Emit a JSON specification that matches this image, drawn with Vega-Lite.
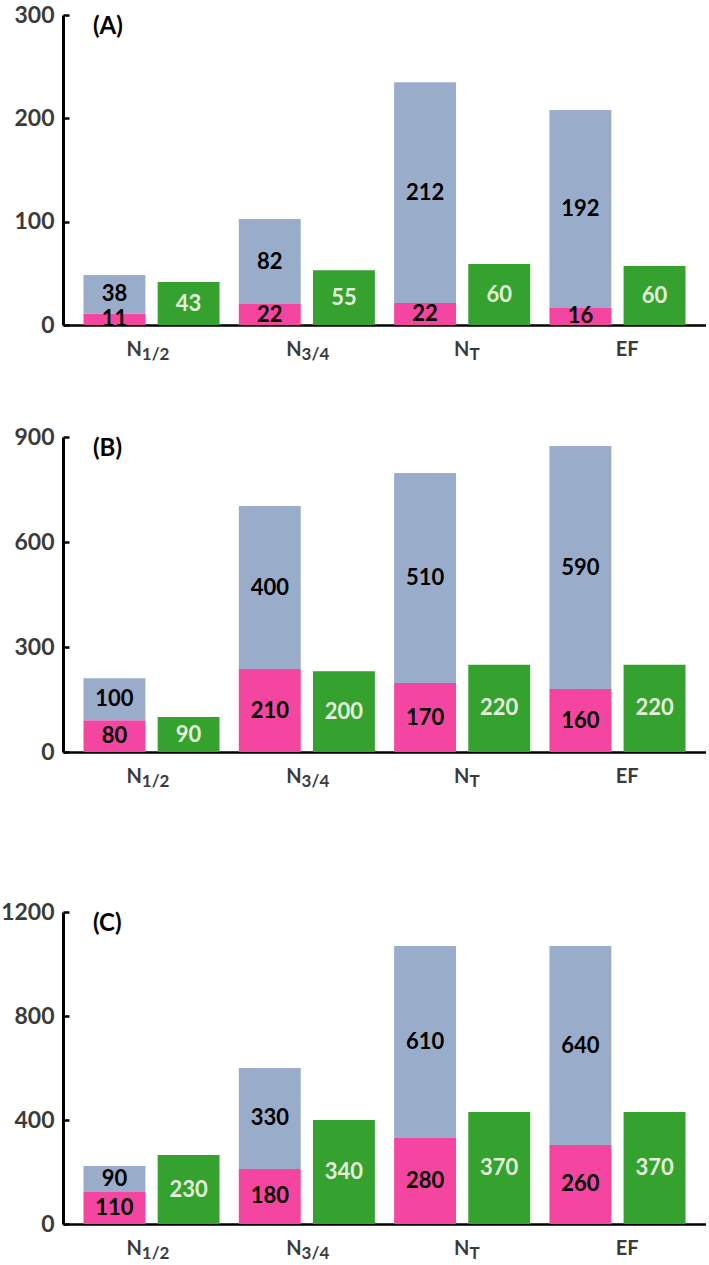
{
  "$schema": "https://vega.github.io/schema/vega-lite/v6.json",
  "padding": {"top": 4, "left": 0, "right": 0, "bottom": 0},
  "config": {
    "view": {"stroke": null},
    "font": "Lato",
    "axis": {"grid": false, "title": null}
  },
  "datasets": {
    "bars": [
      {"panel": "A", "group": "N1/2", "bar": "S", "seg": "lower", "value": 11, "label": "11"},
      {"panel": "A", "group": "N1/2", "bar": "S", "seg": "upper", "value": 37.4, "label": "38"},
      {"panel": "A", "group": "N1/2", "bar": "G", "seg": "other", "value": 41.6, "label": "43"},
      {"panel": "A", "group": "N3/4", "bar": "S", "seg": "lower", "value": 20.3, "label": "22"},
      {"panel": "A", "group": "N3/4", "bar": "S", "seg": "upper", "value": 82.3, "label": "82"},
      {"panel": "A", "group": "N3/4", "bar": "G", "seg": "other", "value": 53, "label": "55"},
      {"panel": "A", "group": "NT", "bar": "S", "seg": "lower", "value": 21.3, "label": "22"},
      {"panel": "A", "group": "NT", "bar": "S", "seg": "upper", "value": 213.7, "label": "212"},
      {"panel": "A", "group": "NT", "bar": "G", "seg": "other", "value": 59, "label": "60"},
      {"panel": "A", "group": "EF", "bar": "S", "seg": "lower", "value": 16.5, "label": "16"},
      {"panel": "A", "group": "EF", "bar": "S", "seg": "upper", "value": 191.5, "label": "192"},
      {"panel": "A", "group": "EF", "bar": "G", "seg": "other", "value": 57, "label": "60"},
      {"panel": "B", "group": "N1/2", "bar": "S", "seg": "lower", "value": 91, "label": "80"},
      {"panel": "B", "group": "N1/2", "bar": "S", "seg": "upper", "value": 120, "label": "100"},
      {"panel": "B", "group": "N1/2", "bar": "G", "seg": "other", "value": 100, "label": "90"},
      {"panel": "B", "group": "N3/4", "bar": "S", "seg": "lower", "value": 237, "label": "210"},
      {"panel": "B", "group": "N3/4", "bar": "S", "seg": "upper", "value": 466, "label": "400"},
      {"panel": "B", "group": "N3/4", "bar": "G", "seg": "other", "value": 231, "label": "200"},
      {"panel": "B", "group": "NT", "bar": "S", "seg": "lower", "value": 197, "label": "170"},
      {"panel": "B", "group": "NT", "bar": "S", "seg": "upper", "value": 600, "label": "510"},
      {"panel": "B", "group": "NT", "bar": "G", "seg": "other", "value": 249, "label": "220"},
      {"panel": "B", "group": "EF", "bar": "S", "seg": "lower", "value": 180, "label": "160"},
      {"panel": "B", "group": "EF", "bar": "S", "seg": "upper", "value": 694, "label": "590"},
      {"panel": "B", "group": "EF", "bar": "G", "seg": "other", "value": 249, "label": "220"},
      {"panel": "C", "group": "N1/2", "bar": "S", "seg": "lower", "value": 123, "label": "110"},
      {"panel": "C", "group": "N1/2", "bar": "S", "seg": "upper", "value": 100, "label": "90"},
      {"panel": "C", "group": "N1/2", "bar": "G", "seg": "other", "value": 265, "label": "230"},
      {"panel": "C", "group": "N3/4", "bar": "S", "seg": "lower", "value": 212, "label": "180"},
      {"panel": "C", "group": "N3/4", "bar": "S", "seg": "upper", "value": 388, "label": "330"},
      {"panel": "C", "group": "N3/4", "bar": "G", "seg": "other", "value": 400, "label": "340"},
      {"panel": "C", "group": "NT", "bar": "S", "seg": "lower", "value": 331, "label": "280"},
      {"panel": "C", "group": "NT", "bar": "S", "seg": "upper", "value": 738, "label": "610"},
      {"panel": "C", "group": "NT", "bar": "G", "seg": "other", "value": 431, "label": "370"},
      {"panel": "C", "group": "EF", "bar": "S", "seg": "lower", "value": 304, "label": "260"},
      {"panel": "C", "group": "EF", "bar": "S", "seg": "upper", "value": 765, "label": "640"},
      {"panel": "C", "group": "EF", "bar": "G", "seg": "other", "value": 431, "label": "370"}
    ],
    "xl": [
      {"group": "N1/2", "main": "N", "sub": "1/2"},
      {"group": "N3/4", "main": "N", "sub": "3/4"},
      {"group": "NT", "main": "N", "sub": "T"},
      {"group": "EF", "main": "EF", "sub": ""}
    ]
  },
  "spacing": 112,
  "bounds": "flush",
  "resolve": {"scale": {"y": "independent"}},
  "vconcat": [
    {
      "width": 643, "height": 310,
      "title": {"text": "(A)", "anchor": "start", "frame": "group", "offset": -54, "dx": 30, "baseline": "alphabetic", "fontSize": 24, "fontWeight": "bold", "font": "Lato", "color": "#000"},
      "resolve": {"scale": {"x": "independent"}},
      "layer": [
        {
          "data": {"name": "bars"},
          "transform": [{"filter": "datum.panel == 'A'"}],
          "layer": [
            {
              "mark": {"type": "bar"},
              "encoding": {
                "x": {"field": "group", "type": "nominal", "scale": {"domain": ["N1/2", "N3/4", "NT", "EF"], "paddingInner": 0.124, "paddingOuter": 0.132}, "axis": {"title": null, "labels": false, "ticks": false, "domainColor": "#000", "domainWidth": 2.5}},
                "xOffset": {"field": "bar", "type": "nominal", "scale": {"domain": ["S", "G"], "paddingInner": 0.165, "paddingOuter": 0}},
                "y": {"field": "value", "type": "quantitative", "stack": "zero", "scale": {"domain": [0, 300], "nice": false}, "axis": {"values": [0, 100, 200, 300], "format": "d", "title": null, "grid": false, "domainColor": "#000", "domainWidth": 3, "tickColor": "#000", "tickWidth": 2.5, "tickSize": -6, "labelPadding": 15, "labelFont": "Lato", "labelFontSize": 23, "labelFontWeight": "bold", "labelColor": "#3b3b3b"}},
                "color": {"field": "seg", "type": "nominal", "scale": {"domain": ["lower", "upper", "other"], "range": ["#F446A0", "#99ADCB", "#35A12F"]}, "legend": null},
                "order": {"field": "seg", "sort": "ascending"}
              }
            },
            {
              "mark": {"type": "text", "fontSize": 22, "fontWeight": "bold", "font": "Lato", "baseline": "middle"},
              "encoding": {
                "x": {"field": "group", "type": "nominal"},
                "xOffset": {"field": "bar", "type": "nominal"},
                "y": {"field": "value", "type": "quantitative", "stack": "zero", "bandPosition": 0.5},
                "detail": {"field": "seg"},
                "order": {"field": "seg", "sort": "ascending"},
                "text": {"field": "label"},
                "color": {"condition": {"test": "datum.seg == 'other'", "value": "#E3F0DA"}, "value": "#000"}
              }
            }
          ]
        },
        {
          "data": {"name": "xl"},
          "encoding": {
            "x": {"field": "group", "type": "nominal", "scale": {"type": "point", "domain": ["N1/2", "N3/4", "NT", "EF"], "padding": 0.512}, "axis": null},
            "y": {"datum": 0}
          },
          "layer": [
            {"transform": [{"filter": "datum.sub != '' && datum.sub != 'T'"}], "mark": {"type": "text", "fontSize": 20, "fontWeight": "bold", "font": "Lato", "align": "right", "baseline": "alphabetic", "dy": 31, "dx": -3, "color": "#3b3b3b"}, "encoding": {"text": {"field": "main"}}},
            {"transform": [{"filter": "datum.sub != '' && datum.sub != 'T'"}], "mark": {"type": "text", "fontSize": 17, "fontWeight": "bold", "font": "Lato", "align": "left", "baseline": "alphabetic", "dy": 35, "dx": -3, "color": "#3b3b3b"}, "encoding": {"text": {"field": "sub"}}},
            {"transform": [{"filter": "datum.sub == 'T'"}], "mark": {"type": "text", "fontSize": 20, "fontWeight": "bold", "font": "Lato", "align": "right", "baseline": "alphabetic", "dy": 31, "dx": 5, "color": "#3b3b3b"}, "encoding": {"text": {"field": "main"}}},
            {"transform": [{"filter": "datum.sub == 'T'"}], "mark": {"type": "text", "fontSize": 17, "fontWeight": "bold", "font": "Lato", "align": "left", "baseline": "alphabetic", "dy": 35, "dx": 5, "color": "#3b3b3b"}, "encoding": {"text": {"field": "sub"}}},
            {"transform": [{"filter": "datum.sub == ''"}], "mark": {"type": "text", "fontSize": 20, "fontWeight": "bold", "font": "Lato", "align": "center", "baseline": "alphabetic", "dy": 31, "dx": 3, "color": "#3b3b3b"}, "encoding": {"text": {"field": "main"}}}
          ]
        }
      ]
    },
    {
      "spacing": 160,
      "bounds": "flush",
      "resolve": {"scale": {"y": "independent"}},
      "vconcat": [
        {
          "width": 643, "height": 315,
          "title": {"text": "(B)", "anchor": "start", "frame": "group", "offset": -54, "dx": 30, "baseline": "alphabetic", "fontSize": 24, "fontWeight": "bold", "font": "Lato", "color": "#000"},
          "resolve": {"scale": {"x": "independent"}},
          "layer": [
            {
              "data": {"name": "bars"},
              "transform": [{"filter": "datum.panel == 'B'"}],
              "layer": [
                {
                  "mark": {"type": "bar"},
                  "encoding": {
                    "x": {"field": "group", "type": "nominal", "scale": {"domain": ["N1/2", "N3/4", "NT", "EF"], "paddingInner": 0.124, "paddingOuter": 0.132}, "axis": {"title": null, "labels": false, "ticks": false, "domainColor": "#000", "domainWidth": 2.5}},
                    "xOffset": {"field": "bar", "type": "nominal", "scale": {"domain": ["S", "G"], "paddingInner": 0.165, "paddingOuter": 0}},
                    "y": {"field": "value", "type": "quantitative", "stack": "zero", "scale": {"domain": [0, 900], "nice": false}, "axis": {"values": [0, 300, 600, 900], "format": "d", "title": null, "grid": false, "domainColor": "#000", "domainWidth": 3, "tickColor": "#000", "tickWidth": 2.5, "tickSize": -6, "labelPadding": 15, "labelFont": "Lato", "labelFontSize": 23, "labelFontWeight": "bold", "labelColor": "#3b3b3b"}},
                    "color": {"field": "seg", "type": "nominal", "scale": {"domain": ["lower", "upper", "other"], "range": ["#F446A0", "#99ADCB", "#35A12F"]}, "legend": null},
                    "order": {"field": "seg", "sort": "ascending"}
                  }
                },
                {
                  "mark": {"type": "text", "fontSize": 22, "fontWeight": "bold", "font": "Lato", "baseline": "middle"},
                  "encoding": {
                    "x": {"field": "group", "type": "nominal"},
                    "xOffset": {"field": "bar", "type": "nominal"},
                    "y": {"field": "value", "type": "quantitative", "stack": "zero", "bandPosition": 0.5},
                    "detail": {"field": "seg"},
                    "order": {"field": "seg", "sort": "ascending"},
                    "text": {"field": "label"},
                    "color": {"condition": {"test": "datum.seg == 'other'", "value": "#E3F0DA"}, "value": "#000"}
                  }
                }
              ]
            },
            {
              "data": {"name": "xl"},
              "encoding": {
                "x": {"field": "group", "type": "nominal", "scale": {"type": "point", "domain": ["N1/2", "N3/4", "NT", "EF"], "padding": 0.512}, "axis": null},
                "y": {"datum": 0}
              },
              "layer": [
                {"transform": [{"filter": "datum.sub != '' && datum.sub != 'T'"}], "mark": {"type": "text", "fontSize": 20, "fontWeight": "bold", "font": "Lato", "align": "right", "baseline": "alphabetic", "dy": 31, "dx": -3, "color": "#3b3b3b"}, "encoding": {"text": {"field": "main"}}},
                {"transform": [{"filter": "datum.sub != '' && datum.sub != 'T'"}], "mark": {"type": "text", "fontSize": 17, "fontWeight": "bold", "font": "Lato", "align": "left", "baseline": "alphabetic", "dy": 35, "dx": -3, "color": "#3b3b3b"}, "encoding": {"text": {"field": "sub"}}},
                {"transform": [{"filter": "datum.sub == 'T'"}], "mark": {"type": "text", "fontSize": 20, "fontWeight": "bold", "font": "Lato", "align": "right", "baseline": "alphabetic", "dy": 31, "dx": 5, "color": "#3b3b3b"}, "encoding": {"text": {"field": "main"}}},
                {"transform": [{"filter": "datum.sub == 'T'"}], "mark": {"type": "text", "fontSize": 17, "fontWeight": "bold", "font": "Lato", "align": "left", "baseline": "alphabetic", "dy": 35, "dx": 5, "color": "#3b3b3b"}, "encoding": {"text": {"field": "sub"}}},
                {"transform": [{"filter": "datum.sub == ''"}], "mark": {"type": "text", "fontSize": 20, "fontWeight": "bold", "font": "Lato", "align": "center", "baseline": "alphabetic", "dy": 31, "dx": 3, "color": "#3b3b3b"}, "encoding": {"text": {"field": "main"}}}
              ]
            }
          ]
        },
        {
          "width": 643, "height": 312,
          "title": {"text": "(C)", "anchor": "start", "frame": "group", "offset": -54, "dx": 30, "baseline": "alphabetic", "fontSize": 24, "fontWeight": "bold", "font": "Lato", "color": "#000"},
          "resolve": {"scale": {"x": "independent"}},
          "layer": [
            {
              "data": {"name": "bars"},
              "transform": [{"filter": "datum.panel == 'C'"}],
              "layer": [
                {
                  "mark": {"type": "bar"},
                  "encoding": {
                    "x": {"field": "group", "type": "nominal", "scale": {"domain": ["N1/2", "N3/4", "NT", "EF"], "paddingInner": 0.124, "paddingOuter": 0.132}, "axis": {"title": null, "labels": false, "ticks": false, "domainColor": "#000", "domainWidth": 2.5}},
                    "xOffset": {"field": "bar", "type": "nominal", "scale": {"domain": ["S", "G"], "paddingInner": 0.165, "paddingOuter": 0}},
                    "y": {"field": "value", "type": "quantitative", "stack": "zero", "scale": {"domain": [0, 1200], "nice": false}, "axis": {"values": [0, 400, 800, 1200], "format": "d", "title": null, "grid": false, "domainColor": "#000", "domainWidth": 3, "tickColor": "#000", "tickWidth": 2.5, "tickSize": -6, "labelPadding": 15, "labelFont": "Lato", "labelFontSize": 23, "labelFontWeight": "bold", "labelColor": "#3b3b3b"}},
                    "color": {"field": "seg", "type": "nominal", "scale": {"domain": ["lower", "upper", "other"], "range": ["#F446A0", "#99ADCB", "#35A12F"]}, "legend": null},
                    "order": {"field": "seg", "sort": "ascending"}
                  }
                },
                {
                  "mark": {"type": "text", "fontSize": 22, "fontWeight": "bold", "font": "Lato", "baseline": "middle"},
                  "encoding": {
                    "x": {"field": "group", "type": "nominal"},
                    "xOffset": {"field": "bar", "type": "nominal"},
                    "y": {"field": "value", "type": "quantitative", "stack": "zero", "bandPosition": 0.5},
                    "detail": {"field": "seg"},
                    "order": {"field": "seg", "sort": "ascending"},
                    "text": {"field": "label"},
                    "color": {"condition": {"test": "datum.seg == 'other'", "value": "#E3F0DA"}, "value": "#000"}
                  }
                }
              ]
            },
            {
              "data": {"name": "xl"},
              "encoding": {
                "x": {"field": "group", "type": "nominal", "scale": {"type": "point", "domain": ["N1/2", "N3/4", "NT", "EF"], "padding": 0.512}, "axis": null},
                "y": {"datum": 0}
              },
              "layer": [
                {"transform": [{"filter": "datum.sub != '' && datum.sub != 'T'"}], "mark": {"type": "text", "fontSize": 20, "fontWeight": "bold", "font": "Lato", "align": "right", "baseline": "alphabetic", "dy": 31, "dx": -3, "color": "#3b3b3b"}, "encoding": {"text": {"field": "main"}}},
                {"transform": [{"filter": "datum.sub != '' && datum.sub != 'T'"}], "mark": {"type": "text", "fontSize": 17, "fontWeight": "bold", "font": "Lato", "align": "left", "baseline": "alphabetic", "dy": 35, "dx": -3, "color": "#3b3b3b"}, "encoding": {"text": {"field": "sub"}}},
                {"transform": [{"filter": "datum.sub == 'T'"}], "mark": {"type": "text", "fontSize": 20, "fontWeight": "bold", "font": "Lato", "align": "right", "baseline": "alphabetic", "dy": 31, "dx": 5, "color": "#3b3b3b"}, "encoding": {"text": {"field": "main"}}},
                {"transform": [{"filter": "datum.sub == 'T'"}], "mark": {"type": "text", "fontSize": 17, "fontWeight": "bold", "font": "Lato", "align": "left", "baseline": "alphabetic", "dy": 35, "dx": 5, "color": "#3b3b3b"}, "encoding": {"text": {"field": "sub"}}},
                {"transform": [{"filter": "datum.sub == ''"}], "mark": {"type": "text", "fontSize": 20, "fontWeight": "bold", "font": "Lato", "align": "center", "baseline": "alphabetic", "dy": 31, "dx": 3, "color": "#3b3b3b"}, "encoding": {"text": {"field": "main"}}}
              ]
            }
          ]
        }
      ]
    }
  ]
}
